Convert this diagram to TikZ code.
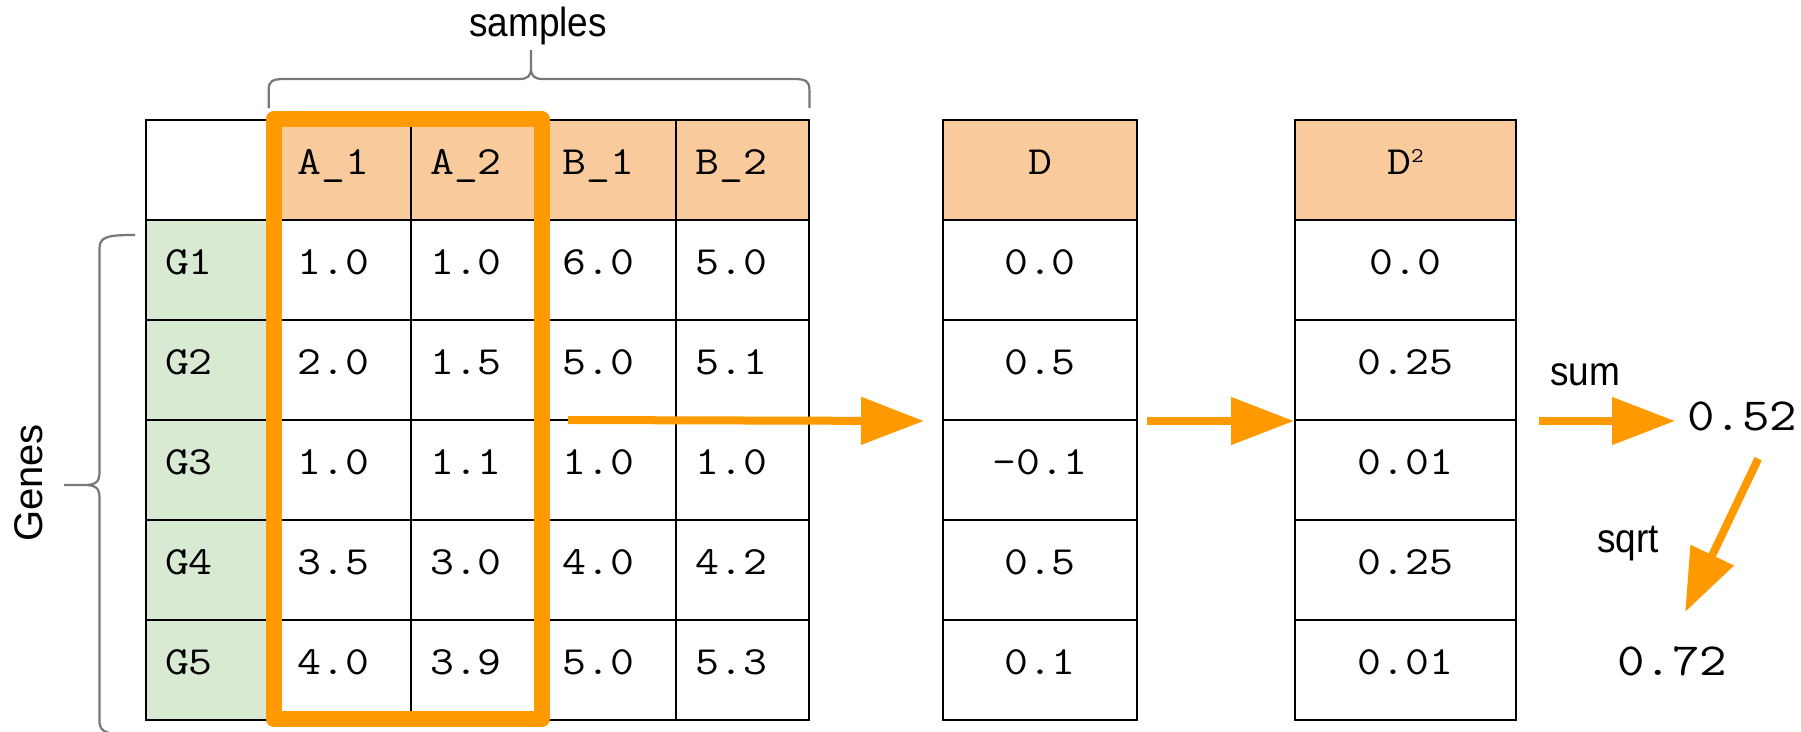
\documentclass[tikz,border=0pt]{standalone}
\usepackage{fontspec}
\setsansfont{Liberation Sans}
\usetikzlibrary{arrows.meta,calc}
\definecolor{orng}{HTML}{FF9900}
\definecolor{peach}{HTML}{F9CB9C}
\definecolor{lgreen}{HTML}{D9EAD3}
\definecolor{bracegray}{HTML}{777777}
\newcommand{\tc}[1]{\scalebox{1.16}[1]{#1}}
\newcommand{\tall}[1]{\scalebox{1}[1.1]{#1}}
\begin{document}
\begin{tikzpicture}[x=1pt,y=-1pt,
  cell/.style={draw=black, line width=2pt, minimum width=132.6pt, minimum height=100pt,
    inner xsep=19pt, inner ysep=0pt, text width=94.6pt, align=left,
    text height=24pt, text depth=16pt, font=\fontsize{40}{40}\selectfont\ttfamily},
  ccell/.style={draw=black, line width=2pt, minimum height=100pt, inner sep=0pt,
    text height=24pt, text depth=16pt, font=\fontsize{40}{40}\selectfont\ttfamily},
  dcell/.style={ccell, minimum width=194pt},
  ecell/.style={ccell, minimum width=221pt},
  lbl/.style={inner sep=0pt, font=\fontsize{37}{37}\selectfont\sffamily},
  res/.style={inner sep=0pt, font=\fontsize{46}{46}\selectfont\ttfamily},
  flow/.style={draw=orng, line width=8pt, -{Triangle[length=63pt,width=46pt]}},
  hl/.style={draw=orng, line width=16pt, line join=round},
  bracepath/.style={draw=bracegray, line width=2.2pt}
]
\useasboundingbox (0,0) rectangle (1801,731);

% main table header
\node[cell] (h0) at (212.3,170) {};
\node[cell,fill=peach] (h1) at (344.9,170) {\tc{A\_1}};
\node[cell,fill=peach] (h2) at (477.5,170) {\tc{A\_2}};
\node[cell,fill=peach] (h3) at (610.1,170) {\tc{B\_1}};
\node[cell,fill=peach] (h4) at (742.7,170) {\tc{B\_2}};

\foreach \r/\g/\a/\b/\c/\d in {1/G1/1.0/1.0/6.0/5.0, 2/G2/2.0/1.5/5.0/5.1, 3/G3/1.0/1.1/1.0/1.0, 4/G4/3.5/3.0/4.0/4.2, 5/G5/4.0/3.9/5.0/5.3}{
  \node[cell,fill=lgreen] (g\r) at (212.3,{170+100*\r}) {\tc{\g}};
  \node[cell] (m\r-1) at (344.9,{170+100*\r}) {\tc{\a}};
  \node[cell] (m\r-2) at (477.5,{170+100*\r}) {\tc{\b}};
  \node[cell] (m\r-3) at (610.1,{170+100*\r}) {\tc{\c}};
  \node[cell] (m\r-4) at (742.7,{170+100*\r}) {\tc{\d}};
}

% D and D^2 columns
\node[dcell,fill=peach] (d0) at (1040,170) {\tc{D}};
\node[ecell,fill=peach] (e0) at (1405.5,170) {\tc{D\raisebox{12pt}{\fontsize{21}{21}\selectfont 2}}};
\foreach \r/\v/\w in {1/0.0/0.0, 2/0.5/0.25, 3/-0.1/0.01, 4/0.5/0.25, 5/0.1/0.01}{
  \node[dcell] (d\r) at (1040,{170+100*\r}) {\tc{\v}};
  \node[ecell] (e\r) at (1405.5,{170+100*\r}) {\tc{\w}};
}

% highlight box
\draw[hl] (273.7,119) rectangle (541.5,719);

% braces
\draw[bracepath] (268.7,108) -- (268.7,90) .. controls (268.7,81) and (272,79) .. (285,79)
  -- (519,79) .. controls (528,79) and (531,76) .. (531,68) -- (531,50)
  -- (531,68) .. controls (531,76) and (534,79) .. (543,79)
  -- (793,79) .. controls (806,79) and (809.4,81) .. (809.4,90) -- (809.4,108);
\draw[bracepath] (135,235) .. controls (110,235) and (99.5,236) .. (99.5,248)
  -- (99.5,472) .. controls (99.5,482) and (96,485) .. (84,485) -- (64,485)
  -- (84,485) .. controls (96,485) and (99.5,488) .. (99.5,498)
  -- (99.5,722) .. controls (99.5,733) and (110,735) .. (135,735);

% labels
\node[lbl, anchor=base] (samples) at (538,36) {\tall{samples}};
\node[lbl, anchor=base, rotate=90, font=\fontsize{40}{40}\selectfont\sffamily] (genes) at (42,483) {Genes};
\node[lbl, anchor=base] (sum) at (1585,385) {\tall{sum}};
\node[lbl, anchor=base] (sqrt) at (1628,552) {\tall{sqrt}};
\node[res, anchor=base west] (r1) at (1687,430) {\tc{0.52}};
\node[res, anchor=base west] (r2) at (1617,675) {\tc{0.72}};

% arrows
\coordinate (a1s) at (568,420);
\draw[flow] (a1s) -- ([xshift=-18pt]d2.south west);
\draw[flow] ([xshift=9pt]d2.south east) -- (e2.south west);
\coordinate (t1) at (e2.south east -| r1.west);
\draw[flow] ([xshift=22pt]e2.south east) -- ($(t1)+(-12,0)$);
\draw[flow] ($(r1.south)+(16,28)$) -- ($(r2.north)+(13,-34)$);
\end{tikzpicture}
\end{document}
